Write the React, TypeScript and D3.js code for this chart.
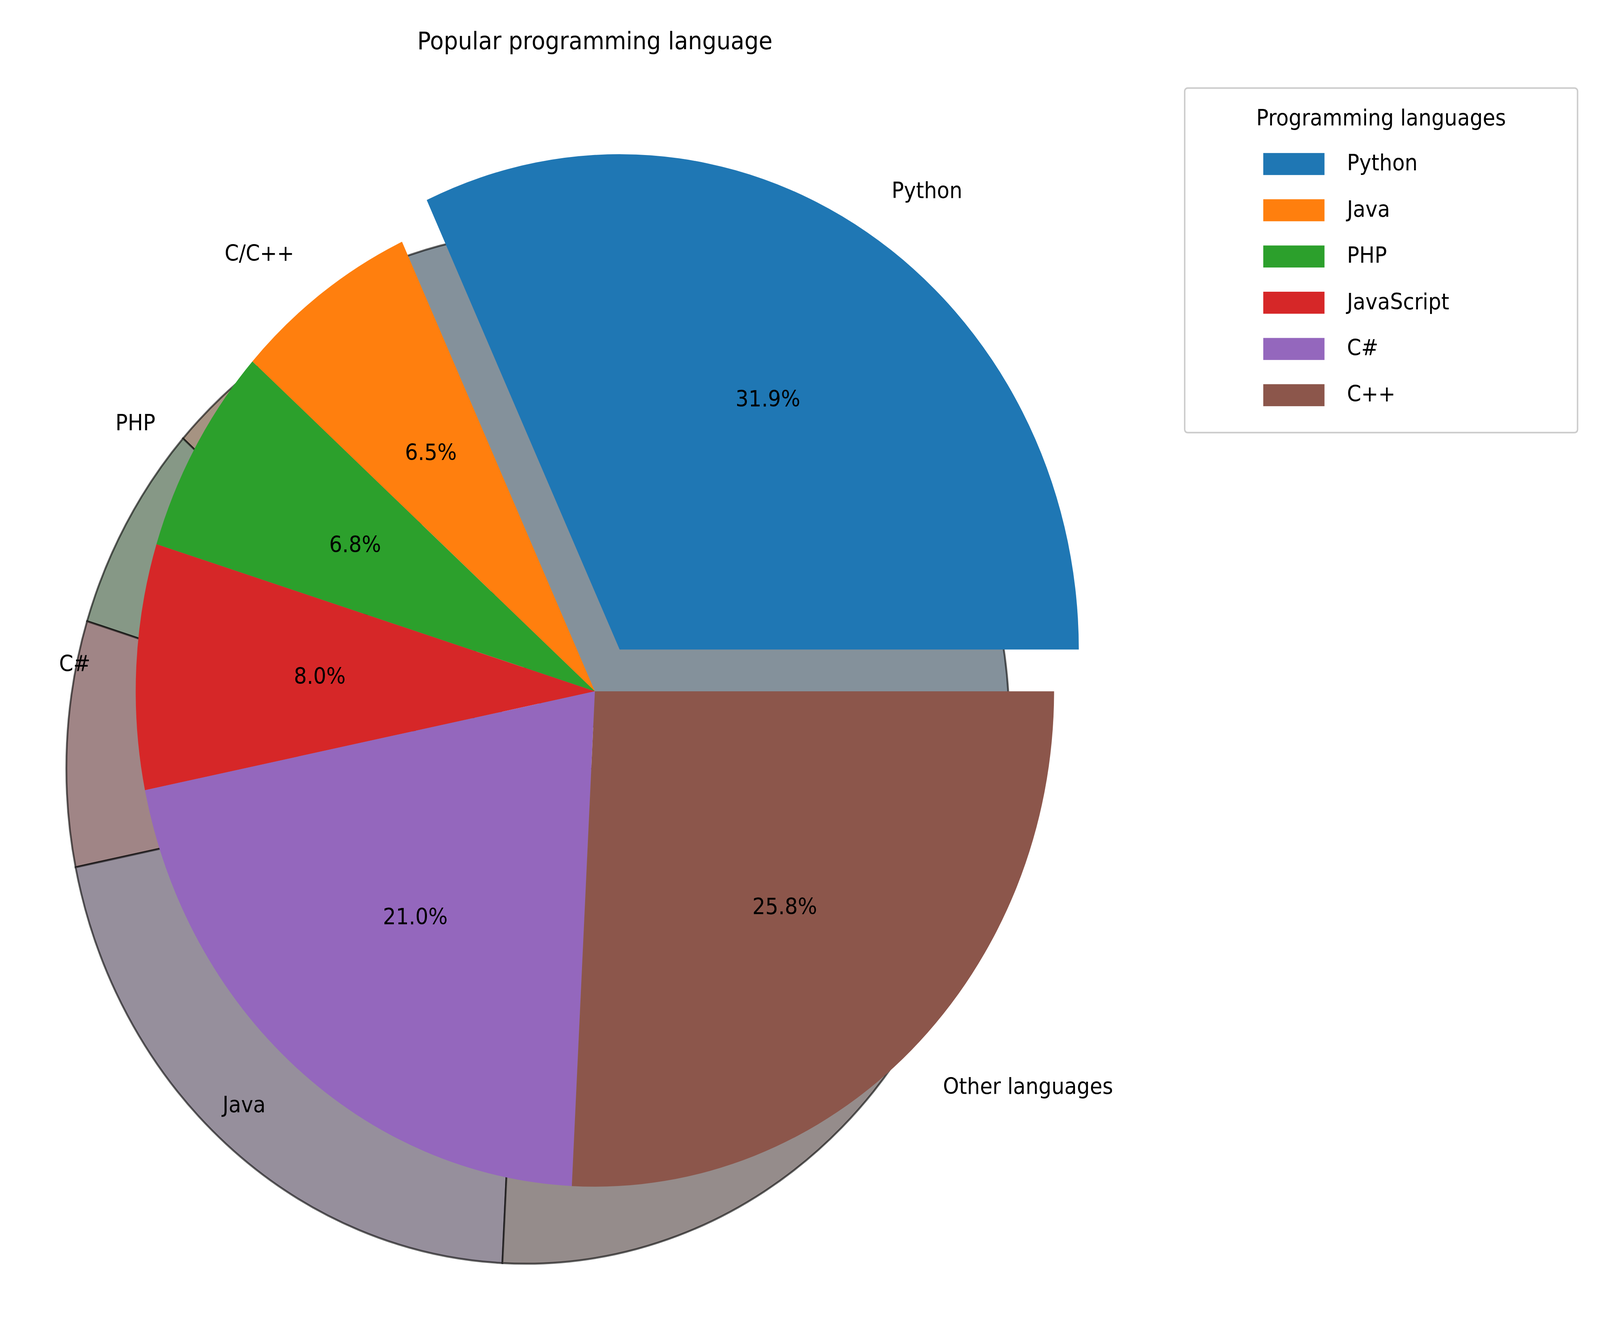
import React from 'react';
import * as d3 from 'd3';

const legendNames = ['Python', 'Java', 'PHP', 'JavaScript', 'C#', 'C++'];
const sliceLabels = ['Python', 'C/C++', 'PHP', 'C#', 'Java', 'Other languages'];
const shares = [31.9, 6.5, 6.8, 8.0, 21.0, 25.8];
const explode = [0.1, 0, 0, 0, 0, 0];
const colors = ['#1f77b4', '#ff7f0e', '#2ca02c', '#d62728', '#9467bd', '#8c564b'];

const W = 4420, H = 3416, S = 4420 / 1568;
const cx = 583 * S, cy = 628 * S, R = 450 * S;
const shOff = [-68 * S, 70 * S];
const font = 'DejaVu Sans, sans-serif';

function shadowColor(c: string) {
  const r = d3.rgb(c);
  return d3.rgb(127.5 + 0.15 * r.r, 127.5 + 0.15 * r.g, 127.5 + 0.15 * r.b).formatHex();
}

export default function App() {
  const total = d3.sum(shares);
  const angle = d3.scaleLinear().domain([0, total]).range([0, 2 * Math.PI]);
  let acc = 0;
  const slices = shares.map((v, i) => {
    const t1 = angle(acc);
    acc += v;
    const t2 = angle(acc);
    const mid = (t1 + t2) / 2;
    const ex = explode[i] * R;
    return { i, v, t1, t2, mid, ox: Math.cos(mid) * ex, oy: -Math.sin(mid) * ex };
  });
  const arc = d3.arc<any>().innerRadius(0).outerRadius(R)
    .startAngle((d) => Math.PI / 2 - d.t2).endAngle((d) => Math.PI / 2 - d.t1);
  const fs = 20 * S;

  return (
    <svg viewBox={`0 0 ${W} ${H}`} preserveAspectRatio="none"
      style={{ position: 'fixed', left: 0, top: 0, width: '100vw', height: '100vh', display: 'block', background: '#fff' }}>
      <text x={cx} y={37 * S} textAnchor="middle" dominantBaseline="central" fontFamily={font} fontSize={22 * S}>
        Popular programming language
      </text>
      {slices.map((s) => (
        <path key={'sh' + s.i} d={arc(s) as string}
          transform={`translate(${cx + s.ox + shOff[0]},${cy + s.oy + shOff[1]})`}
          fill={shadowColor(colors[s.i])} stroke="rgba(0,0,0,0.6)" strokeWidth={5} />
      ))}
      {slices.map((s) => (
        <path key={'w' + s.i} d={arc(s) as string}
          transform={`translate(${cx + s.ox},${cy + s.oy})`} fill={colors[s.i]} />
      ))}
      {slices.map((s) => {
        const lx = cx + s.ox + Math.cos(s.mid) * R * 1.1;
        const ly = cy + s.oy - Math.sin(s.mid) * R * 1.1;
        const px = cx + s.ox + Math.cos(s.mid) * R * 0.6;
        const py = cy + s.oy - Math.sin(s.mid) * R * 0.6;
        return (
          <g key={'t' + s.i} fontFamily={font} fontSize={fs}>
            <text x={lx} y={ly} textAnchor={Math.cos(s.mid) > 0 ? 'start' : 'end'} dominantBaseline="central">
              {sliceLabels[s.i]}
            </text>
            <text x={px} y={py} textAnchor="middle" dominantBaseline="central">
              {s.v.toFixed(1)}%
            </text>
          </g>
        );
      })}
      <g fontFamily={font} fontSize={fs}>
        <rect x={1161 * S} y={80 * S} width={385 * S} height={313 * S} rx={8} fill="#fff" stroke="#ccc" strokeWidth={4} />
        <text x={1353.5 * S} y={107 * S} textAnchor="middle" dominantBaseline="central">Programming languages</text>
        {legendNames.map((n, i) => (
          <g key={n}>
            <rect x={1238 * S} y={(148 + 42 * i - 9) * S} width={60 * S} height={20 * S} fill={colors[i]} />
            <text x={1320 * S} y={(148 + 42 * i) * S} dominantBaseline="central">{n}</text>
          </g>
        ))}
      </g>
    </svg>
  );
}
